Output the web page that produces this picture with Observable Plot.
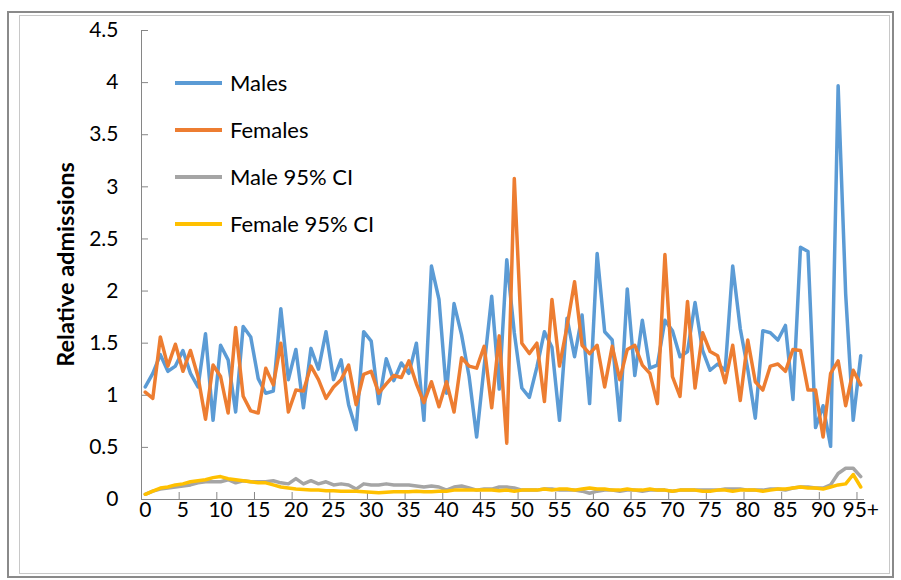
<!DOCTYPE html>
<html>
<head>
<meta charset="utf-8">
<script src="https://cdn.jsdelivr.net/npm/d3@7"></script>
<script src="https://cdn.jsdelivr.net/npm/@observablehq/plot@0.6"></script>
<style>
  html, body { margin: 0; padding: 0; background: #fff; }
  #wrap { position: relative; width: 901px; height: 580px; overflow: hidden; font-family: Lato, "Open Sans", sans-serif; }
  .outer { position: absolute; left: 7px; top: 11px; width: 887px; height: 567px; border: 2px solid #8a8a8a; box-sizing: border-box; }
  .inner { position: absolute; left: 19px; top: 15px; width: 871px; height: 559px; border: 1px solid #c8c8c8; box-sizing: border-box; }
  #chart { position: absolute; left: 0; top: 0; }
  .legend { position: absolute; left: 175px; top: 59px; }
  .legend .row { display: flex; align-items: center; height: 47px; }
  .legend .sw { width: 47px; height: 0; border-top: 4px solid; margin-right: 8px; }
  .legend .lab { font-size: 22px; color: #000; line-height: 1; }
</style>
</head>
<body>
<div id="wrap">
  <div class="outer"></div>
  <div class="inner"></div>
  <div id="chart"></div>
  <div class="legend" id="legend"></div>
</div>
<script>
// Categories (age)
const ageLabels = ["0","1","2","3","4","5","6","7","8","9","10","11","12","13","14","15","16","17","18","19",
  "20","21","22","23","24","25","26","27","28","29","30","31","32","33","34","35","36","37","38","39",
  "40","41","42","43","44","45","46","47","48","49","50","51","52","53","54","55","56","57","58","59",
  "60","61","62","63","64","65","66","67","68","69","70","71","72","73","74","75","76","77","78","79",
  "80","81","82","83","84","85","86","87","88","89","90","91","92","93","94","95+"];

const males = [1.08,1.21,1.39,1.23,1.28,1.43,1.21,1.08,1.59,0.76,
  1.48,1.34,0.84,1.66,1.56,1.16,1.02,1.04,1.83,1.15,
  1.44,0.88,1.45,1.25,1.61,1.15,1.34,0.91,0.67,1.61,
  1.52,0.92,1.35,1.14,1.31,1.21,1.50,0.76,2.24,1.92,
  1.02,1.88,1.58,1.18,0.60,1.28,1.95,1.06,2.30,1.60,
  1.07,0.98,1.27,1.61,1.46,0.76,1.74,1.37,1.77,0.92,
  2.36,1.61,1.53,0.76,2.02,1.19,1.72,1.26,1.29,1.72,
  1.62,1.37,1.42,1.89,1.43,1.24,1.30,1.24,2.24,1.64,
  1.25,0.78,1.62,1.60,1.53,1.67,0.96,2.42,2.38,0.69,
  0.90,0.51,3.97,1.97,0.76,1.38];

const females = [1.03,0.97,1.56,1.28,1.49,1.23,1.43,1.18,0.77,1.29,
  1.18,0.83,1.65,0.99,0.85,0.83,1.26,1.10,1.50,0.84,
  1.05,1.04,1.28,1.15,0.97,1.08,1.15,1.29,0.91,1.20,
  1.23,1.02,1.11,1.19,1.17,1.33,1.11,0.93,1.13,0.89,
  1.13,0.84,1.36,1.28,1.26,1.47,0.88,1.57,0.54,3.08,
  1.50,1.40,1.50,0.94,1.92,1.28,1.66,2.09,1.48,1.40,
  1.48,1.08,1.47,1.15,1.44,1.48,1.29,1.21,0.92,2.35,
  1.18,0.99,1.90,1.07,1.60,1.42,1.38,1.12,1.48,0.95,
  1.53,1.13,1.05,1.28,1.30,1.23,1.44,1.43,1.05,1.05,
  0.60,1.21,1.33,0.90,1.24,1.10];

const maleCI = [0.05,0.08,0.10,0.11,0.12,0.13,0.14,0.16,0.17,0.17,
  0.17,0.19,0.16,0.18,0.17,0.17,0.17,0.18,0.16,0.15,
  0.20,0.15,0.18,0.15,0.17,0.14,0.15,0.14,0.10,0.15,
  0.14,0.14,0.15,0.14,0.14,0.14,0.13,0.12,0.13,0.12,
  0.09,0.12,0.13,0.11,0.09,0.10,0.10,0.12,0.12,0.11,
  0.09,0.09,0.09,0.10,0.10,0.09,0.09,0.09,0.08,0.06,
  0.08,0.09,0.09,0.08,0.09,0.09,0.08,0.09,0.09,0.09,
  0.08,0.09,0.09,0.09,0.09,0.09,0.09,0.10,0.10,0.10,
  0.09,0.09,0.09,0.10,0.10,0.09,0.11,0.12,0.12,0.11,
  0.11,0.14,0.25,0.30,0.30,0.22];

const femaleCI = [0.05,0.08,0.11,0.12,0.14,0.15,0.17,0.18,0.19,0.21,
  0.22,0.20,0.19,0.18,0.17,0.16,0.16,0.14,0.12,0.11,
  0.10,0.095,0.09,0.09,0.085,0.085,0.08,0.08,0.08,0.075,
  0.07,0.065,0.07,0.075,0.075,0.075,0.08,0.075,0.075,0.08,
  0.08,0.09,0.09,0.09,0.09,0.09,0.09,0.085,0.09,0.08,
  0.09,0.09,0.09,0.10,0.09,0.10,0.10,0.09,0.10,0.11,
  0.10,0.10,0.09,0.09,0.10,0.09,0.09,0.10,0.09,0.09,
  0.08,0.09,0.09,0.09,0.08,0.08,0.09,0.09,0.08,0.09,
  0.09,0.09,0.08,0.09,0.10,0.10,0.11,0.12,0.11,0.11,
  0.10,0.12,0.14,0.15,0.24,0.12];

const seriesNames = ["Males", "Females", "Male 95% CI", "Female 95% CI"];
const seriesColors = ["#5B9BD5", "#ED7D31", "#A5A5A5", "#FFC000"];
const seriesValues = [males, females, maleCI, femaleCI];

const yTicks = [0, 0.5, 1, 1.5, 2, 2.5, 3, 3.5, 4, 4.5];
const yTickLabels = ["0","0.5","1","1.5","2","2.5","3","3.5","4","4.5"];
const xLabelIdx = [0,5,10,15,20,25,30,35,40,45,50,55,60,65,70,75,80,85,90,95];
const xTickMarks = [4.5,9.5,14.5,19.5,24.5,29.5,34.5,39.5,44.5,49.5,54.5,59.5,64.5,69.5,74.5,79.5,84.5,89.5,94.5];
const yTitle = "Relative admissions";

const W = 901, H = 580, mL = 141, mR = 37, mT = 30, mB = 81;
const plotW = W - mL - mR, plotH = H - mT - mB;
const axisColor = "#868686";

const rows = [];
seriesValues.forEach((vals, s) => {
  vals.forEach((v, i) => rows.push({i, v, s: seriesNames[s]}));
});

const lineMarks = seriesNames.map((name, s) =>
  Plot.line(rows.filter(d => d.s === name), {
    x: "i", y: "v", stroke: seriesColors[s], strokeWidth: 3.5,
    strokeLinejoin: "round", strokeLinecap: "round"
  })
);

const chart = Plot.plot({
  width: W, height: H,
  marginLeft: mL, marginRight: mR, marginTop: mT, marginBottom: mB,
  style: { fontFamily: "Lato, 'Open Sans', sans-serif", fontSize: "21px", color: "#000", background: "transparent", overflow: "visible" },
  x: { type: "linear", domain: [-0.5, 95.5] },
  y: { type: "linear", domain: [0, 4.5] },
  marks: [
    Plot.axisY(yTicks, { tickSize: 0, tickPadding: 23, tickFormat: d => yTickLabels[yTicks.indexOf(d)], label: null, fill: "#000" }),
    Plot.axisX(xLabelIdx, { tickSize: 0, tickPadding: 3, tickFormat: d => ageLabels[d], label: null, fill: "#000" }),
    Plot.tickY(yTicks, { y: d => d, stroke: axisColor, insetRight: plotW - 7 }),
    Plot.tickX(xTickMarks, { x: d => d, stroke: axisColor, insetTop: plotH - 7 }),
    Plot.ruleX([-0.5], { stroke: axisColor }),
    Plot.ruleY([0], { stroke: axisColor }),
    ...lineMarks
  ]
});

d3.select(chart).append("text")
  .attr("transform", `translate(68,${mT + plotH / 2}) rotate(-90)`)
  .attr("text-anchor", "middle")
  .attr("dominant-baseline", "middle")
  .attr("font-weight", "bold")
  .attr("font-size", "23.5px")
  .attr("fill", "#000")
  .text(yTitle);

document.getElementById("chart").appendChild(chart);

const legend = d3.select("#legend");
seriesNames.forEach((name, s) => {
  const row = legend.append("div").attr("class", "row");
  row.append("div").attr("class", "sw").style("border-top-color", seriesColors[s]);
  row.append("div").attr("class", "lab").text(name);
});
</script>
</body>
</html>
